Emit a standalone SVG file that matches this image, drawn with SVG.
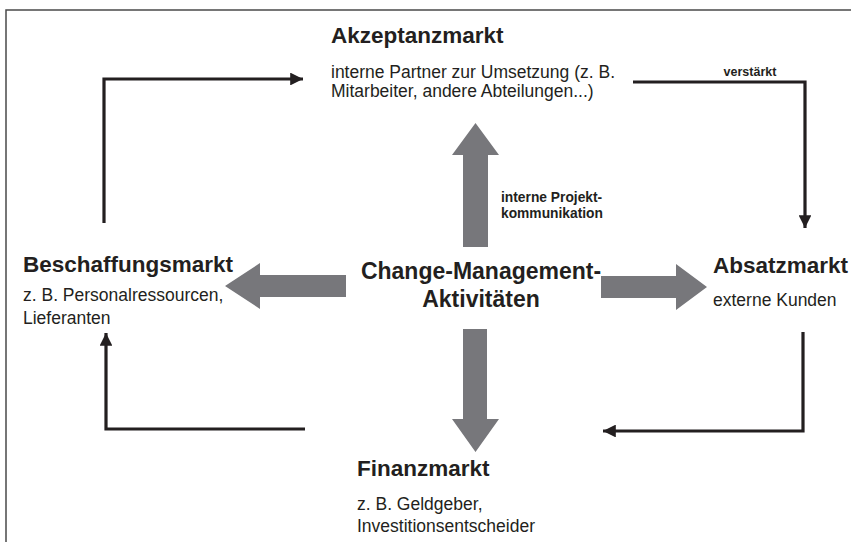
<svg xmlns="http://www.w3.org/2000/svg" width="851" height="542" viewBox="0 0 851 542">
<defs>
<marker id="ah" viewBox="0 0 10 10" refX="10" refY="5" markerWidth="4" markerHeight="4" markerUnits="strokeWidth" orient="auto">
<path d="M0,0 L10,5 L0,10 z" fill="#231f20"/>
</marker>
<style>
text{font-family:"Liberation Sans",Arial,sans-serif;fill:#231f20}
.t{font-size:22.5px;font-weight:bold}
.s{font-size:17.5px}
.c{font-size:23px;font-weight:bold}
.l{font-size:12.5px;font-weight:bold}
.l2{font-size:13.8px;font-weight:bold}
.big{fill:#77777b}
.cn{fill:none;stroke:#231f20;stroke-width:3.2}
</style>
</defs>
<rect width="851" height="542" fill="#fff"/>
<path d="M6,542 V10 H851" fill="none" stroke="#4a4a4a" stroke-width="1.5"/>
<g id="center">
<text class="c" x="481" y="279" text-anchor="middle">Change-Management-</text>
<text class="c" x="481" y="307" text-anchor="middle">Aktivitäten</text>
<polygon class="big" points="463,247 463,155 452,155 475.5,123 499,155 488,155 488,247"/>
<polygon class="big" points="346,275 260,275 260,263 225,286 260,309 260,297 346,297"/>
<polygon class="big" points="601,276 676,276 676,264 707,287 676,310 676,298 601,298"/>
<polygon class="big" points="463,329 463,419 452,419 475.5,452 499,419 487,419 487,329"/>
<text class="l2" x="501" y="202">interne Projekt-</text>
<text class="l2" x="501" y="218">kommunikation</text>
</g>
<g id="akzeptanzmarkt">
<text class="t" x="331" y="43">Akzeptanzmarkt</text>
<text class="s" x="331" y="78">interne Partner zur Umsetzung (z. B.</text>
<text class="s" x="331" y="97">Mitarbeiter, andere Abteilungen...)</text>
</g>
<g id="beschaffungsmarkt">
<text class="t" x="23" y="272">Beschaffungsmarkt</text>
<text class="s" x="23" y="301">z. B. Personalressourcen,</text>
<text class="s" x="23" y="324">Lieferanten</text>
</g>
<g id="absatzmarkt">
<text class="t" x="713" y="273">Absatzmarkt</text>
<text class="s" x="713" y="306">externe Kunden</text>
</g>
<g id="finanzmarkt">
<text class="t" x="357" y="476">Finanzmarkt</text>
<text class="s" x="357" y="510">z. B. Geldgeber,</text>
<text class="s" x="357" y="532">Investitionsentscheider</text>
</g>
<g id="connectors">
<path class="cn" d="M104,223 V79 H303" marker-end="url(#ah)"/>
<path class="cn" d="M633,82 H805 V228" marker-end="url(#ah)"/>
<text class="l" x="750" y="76" text-anchor="middle">verstärkt</text>
<path class="cn" d="M803,332 V431 H603" marker-end="url(#ah)"/>
<path class="cn" d="M305,429 H106 V333" marker-end="url(#ah)"/>
</g>
</svg>
